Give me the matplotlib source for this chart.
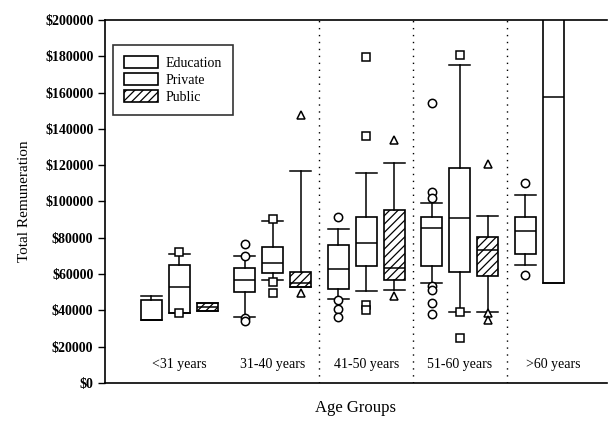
import matplotlib
matplotlib.use("Agg")
import matplotlib.pyplot as plt
from matplotlib.patches import Patch
from matplotlib.ticker import FuncFormatter

plt.rcParams["font.family"] = ["Liberation Serif", "DejaVu Serif"]
plt.rcParams["hatch.linewidth"] = 0.9

AGE_GROUPS = ["<31 years", "31-40 years", "41-50 years", "51-60 years", ">60 years"]
SECTORS = ["Education", "Private", "Public"]

# per sector, per age group: (whislo, q1, med, q3, whishi, fliers); None = no box
EDUCATION = [
    (34500, 34500, 34500, 45500, 47800, []),
    (36200, 50000, 56600, 63100, 69800, [76500, 70000, 36000, 34000]),
    (46100, 51600, 62600, 75800, 84700, [91300, 45500, 40500, 36500]),
    (54900, 64300, 85200, 91300, 99000, [154100, 105100, 101800, 53300, 51100, 43900, 37900]),
    (64900, 70900, 83600, 91300, 103400, [110000, 59300]),
]
PRIVATE = [
    (38700, 38700, 52700, 64800, 70900, [72000, 38700]),
    (56600, 60400, 65900, 74800, 89000, [90500, 55500, 49400]),
    (50500, 64300, 77000, 91300, 115600, [179500, 135900, 42800, 40000]),
    (39000, 61000, 90700, 118300, 175100, [180500, 39000, 25000]),
    (55000, 55000, 157500, 260000, 260000, []),
]
PUBLIC = [
    (39500, 39500, 42000, 44300, 44300, []),
    (52700, 52700, 54900, 61000, 116700, [147500, 49400]),
    (51100, 56600, 63200, 95100, 121100, [133800, 47800]),
    (39000, 58800, 73100, 80300, 91800, [120500, 38400, 34500]),
    None,
]

SERIES = [EDUCATION, PRIVATE, PUBLIC]
OFFSETS = [-0.3, 0.0, 0.3]
MARKERS = ["o", "s", "^"]
HATCHES = [None, None, "////"]

fig = plt.figure(figsize=(6.08, 4.25), dpi=100)
ax = fig.add_axes([0.173, 0.099, 0.825, 0.854])

for data, off, mk, hatch in zip(SERIES, OFFSETS, MARKERS, HATCHES):
    stats, pos = [], []
    for i, row in enumerate(data):
        if row is None:
            continue
        lo, q1, med, q3, hi, fl = row
        stats.append(dict(whislo=lo, q1=q1, med=med, q3=q3, whishi=hi, fliers=fl))
        pos.append(i + 1 + off)
    ax.bxp(stats, positions=pos, widths=0.225, capwidths=0.225,
           patch_artist=True, manage_ticks=False,
           boxprops=dict(facecolor="white", edgecolor="black", linewidth=1.2, hatch=hatch),
           medianprops=dict(color="black", linewidth=1.1),
           whiskerprops=dict(color="black", linewidth=1.1),
           capprops=dict(color="black", linewidth=1.1),
           flierprops=dict(marker=mk, markerfacecolor="white", markeredgecolor="black",
                           markersize=6, markeredgewidth=1.1, linestyle="none"))

# dotted separators between age groups
for x in [2.5, 3.5, 4.5]:
    ax.axvline(x, color="black", linestyle=(0, (1, 4)), linewidth=1.0)

for i, name in enumerate(AGE_GROUPS):
    ax.text(i + 1, 10000, name, ha="center", va="center", fontsize=10)

ax.set_xlim(0.21, 5.57)
ax.set_ylim(0, 200000)
ax.set_yticks(range(0, 200001, 20000))
ax.yaxis.set_major_formatter(FuncFormatter(lambda v, p: f"${int(v)}"))
ax.set_xticks([])
ax.tick_params(axis="y", direction="out", length=5, width=1, labelsize=10)
for lab in ax.get_yticklabels():
    lab.set_fontweight("bold")
ax.spines["right"].set_visible(False)
for s in ["left", "top", "bottom"]:
    ax.spines[s].set_linewidth(1.2)

ax.set_ylabel("Total Remuneration", fontsize=11, labelpad=10)
fig.text(0.584, 0.04, "Age Groups", ha="center", va="center", fontsize=12)

handles = [Patch(facecolor="white", edgecolor="black", linewidth=1.2, hatch=h, label=s)
           for s, h in zip(SECTORS, HATCHES)]
leg = ax.legend(handles=handles, loc="upper left", bbox_to_anchor=(0.016, 0.931),
                borderaxespad=0, fontsize=10, frameon=True, fancybox=False,
                edgecolor="black", handlelength=2.4, handleheight=0.9,
                labelspacing=0.25, borderpad=0.8, handletextpad=0.6)
leg.get_frame().set_linewidth(1.2)

fig.savefig("out.png", dpi=100)
